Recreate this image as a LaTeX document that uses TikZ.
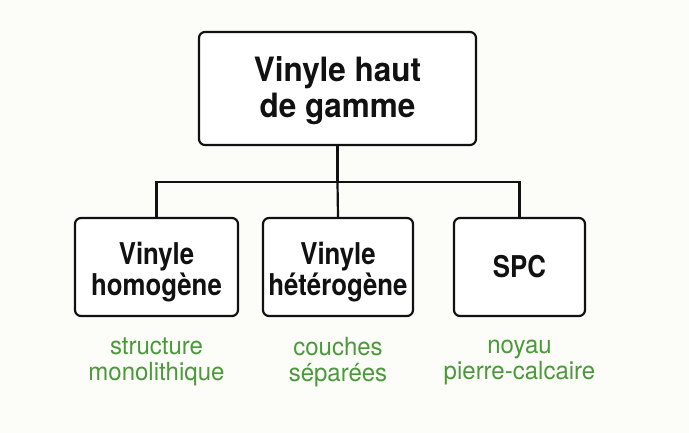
\documentclass[tikz,border=0pt]{standalone}
\usepackage{fontspec}
\setmainfont{TeX Gyre Heros}
\newfontfamily\topfont[FakeStretch=0.94]{TeX Gyre Heros}
\newfontfamily\boxfont[FakeStretch=0.86]{TeX Gyre Heros}
\newfontfamily\notefont[FakeStretch=0.96]{TeX Gyre Heros}
\definecolor{bg}{HTML}{FCFCF9}
\definecolor{lbl}{HTML}{4A9A3A}
\definecolor{ink}{HTML}{111111}
\begin{document}
\begin{tikzpicture}[x=1pt,y=-1pt,
  box/.style={draw=ink,line width=2.2pt,rounded corners=6pt,fill=white,inner sep=0pt},
  boxtext/.style={text=ink,align=center,inner sep=0pt,font=\boxfont\fontsize{30}{31}\selectfont\bfseries},
  note/.style={text=lbl,align=center,inner sep=0pt,font=\notefont\fontsize{25}{26}\selectfont},
  link/.style={draw=ink,line width=2.2pt}]
\fill[bg] (0,0) rectangle (689,433);
\useasboundingbox (0,0) rectangle (689,433);
\node[box,minimum width=277pt,minimum height=113pt] (top) at (337.5,88.5) {};
\node[text=ink,align=center,inner sep=0pt,font=\topfont\fontsize{33.5}{36}\selectfont\bfseries] (top-t) at ([yshift=-2pt]top.center) {Vinyle haut\\de gamme};
\node[box,minimum width=163pt,minimum height=98pt] (homo) at (156.5,267) {};
\node[box,minimum width=150pt,minimum height=98pt] (hetero) at (338,267) {};
\node[box,minimum width=131pt,minimum height=98pt] (spc) at (519.5,267) {};
\node[boxtext] (homo-t) at ([yshift=-5pt]homo.center) {Vinyle\\homogène};
\node[boxtext] (hetero-t) at ([yshift=-5pt]hetero.center) {Vinyle\\hétérogène};
\node[boxtext] (spc-t) at (spc.center) {SPC};
\coordinate (j) at (337.5,182);
\draw[link] (top.south) -- (j);
\draw[link] (homo.north) |- (j) -| (spc.north);
\draw[link] (j) -- (hetero.north);
\node[note] (n1) at (156.5,362) {structure\\monolithique};
\node[note] (n2) at (338,362) {couches\\séparées};
\node[note] (n3) at (519.5,362) {noyau\\pierre-calcaire};
\end{tikzpicture}
\end{document}
